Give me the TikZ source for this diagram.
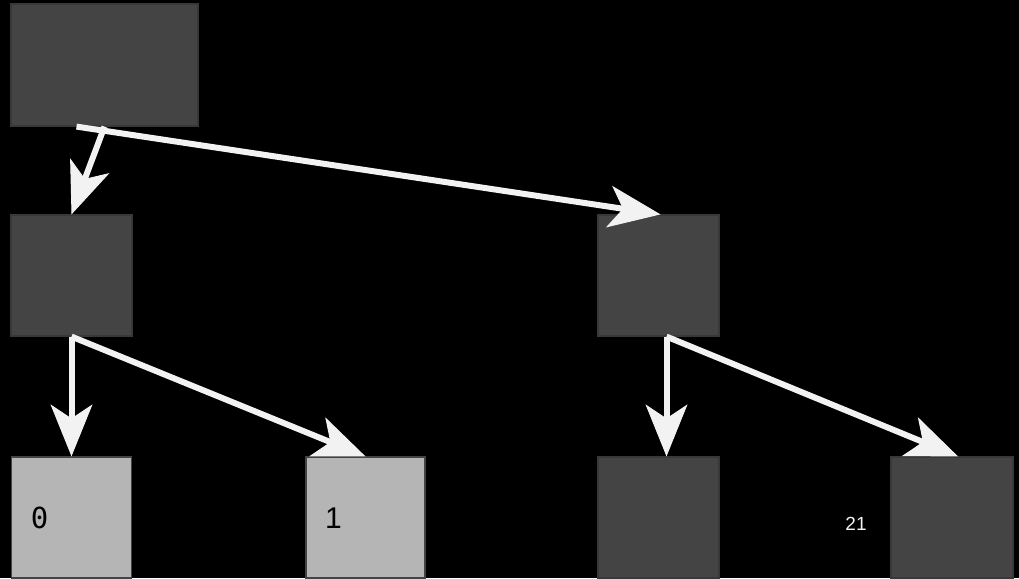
\documentclass[tikz,border=0pt]{standalone}
\usepackage{fontspec}
\setmainfont{Liberation Sans}
\newfontfamily\monofnt{DejaVu Sans Mono}
\usetikzlibrary{arrows.meta}
\definecolor{darkbox}{HTML}{444444}
\definecolor{darkedge}{HTML}{383838}
\definecolor{lightbox}{HTML}{B5B5B5}
\definecolor{arrowc}{HTML}{F2F2F2}
\begin{document}
\begin{tikzpicture}[x=1pt,y=-1pt,
  dbox/.style={draw=darkedge,fill=darkbox,line width=1.2pt,minimum width=121pt,minimum height=121pt,inner sep=0pt},
  lbox/.style={draw=darkbox,fill=lightbox,line width=1.2pt,minimum width=120pt,minimum height=121pt,inner sep=0pt},
  arr/.style={draw=arrowc,line width=6pt,-{Stealth[length=52pt,width=42pt,inset=14pt,line width=1pt]}},
  lbl/.style={inner sep=0pt,anchor=center}]
\fill[black] (0,0) rectangle (1019,578);
\useasboundingbox (0,0) rectangle (1019,578);
\node[dbox,minimum width=187pt,minimum height=122pt] (root) at (104.5,65) {};
\node[dbox] (ml) at (71.5,275.5) {};
\node[dbox] (mr) at (658.5,275.5) {};
\node[lbox] (b0) at (71.5,517.5) {};
\node[lbox,minimum width=119pt] (b1) at (365.5,517.5) {};
\node[dbox] (b2) at (658.5,517.5) {};
\node[dbox,minimum width=122pt] (b3) at (952,517.5) {};
\node[lbl,font=\monofnt\fontsize{29}{30}\selectfont,text=black] (t0) at (39.5,518) {0};
\node[lbl,font=\fontsize{30}{32}\selectfont,text=black] (t1) at (333.5,518) {1};
\node[lbl,font=\fontsize{19}{20}\selectfont,text=arrowc] (t21) at (856,524) {21};
\draw[arr] (root.south) -- (ml.north);
\draw[arr] ([xshift=-28pt]root.south) -- ([xshift=2pt]mr.north);
\draw[arr] (ml.south) -- (b0.north);
\draw[arr] (ml.south) -- (b1.north);
\draw[arr] ([xshift=8pt]mr.south) -- ([xshift=8pt]b2.north);
\draw[arr] ([xshift=8pt]mr.south) -- ([xshift=6pt]b3.north);
\end{tikzpicture}
\end{document}
